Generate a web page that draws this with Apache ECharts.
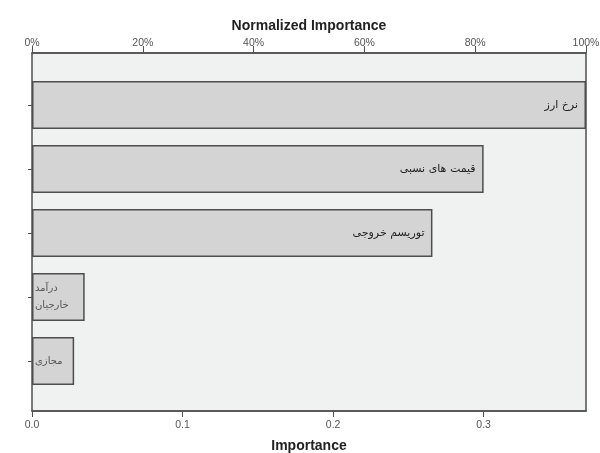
<!DOCTYPE html>
<html>
<head>
<meta charset="utf-8">
<script src="https://cdn.jsdelivr.net/npm/echarts@6/dist/echarts.min.js"></script>
<style>html,body{margin:0;padding:0;background:#fff}#c{width:600px;height:453px}</style>
</head>
<body>
<div id="c"></div>
<script>
var categories = ['نرخ ارز', 'قیمت های نسبی', 'توریسم خروجی', 'درآمد خارجیان', 'مجازی'];
var importance = [0.368, 0.300, 0.266, 0.035, 0.028];
var normalizedImportance = [100, 81.7, 72.3, 9.5, 7.5];
var percentTicks = [0, 20, 40, 60, 80, 100];
var importanceTicks = [0.0, 0.1, 0.2, 0.3];

var maxImp = importance[0];
var chart = echarts.init(document.getElementById('c'), null, {renderer: 'canvas'});
var axisFont = {fontFamily: 'Liberation Sans', fontSize: 10.5, color: '#555'};
var lineCol = '#505050';
var option = {
  backgroundColor: '#ffffff',
  animation: false,
  grid: [
    {left: 32, right: 14, top: 53, bottom: 42, show: true, backgroundColor: '#f0f2f2', borderColor: lineCol, borderWidth: 1.5, containLabel: false, outerBoundsMode: 'none'},
    {left: 32, right: 14, top: 73, bottom: 60, containLabel: false, outerBoundsMode: 'none'}
  ],
  xAxis: [
    {gridIndex: 0, type: 'value', position: 'top', min: percentTicks[0], max: percentTicks[percentTicks.length - 1], interval: 20,
      name: 'Normalized Importance', nameLocation: 'middle', nameGap: 19,
      nameTextStyle: {fontFamily: 'Liberation Sans', fontWeight: 'bold', fontSize: 14, color: '#222'},
      axisLine: {show: true, onZero: false, lineStyle: {color: lineCol, width: 1.5}},
      axisTick: {show: true, length: 7, lineStyle: {color: lineCol}},
      axisLabel: Object.assign({formatter: '{value}%', margin: 4}, axisFont), splitLine: {show: false}},
    {gridIndex: 0, type: 'value', position: 'bottom', min: importanceTicks[0], max: maxImp, interval: 0.1,
      name: 'Importance', nameLocation: 'middle', nameGap: 28,
      nameTextStyle: {fontFamily: 'Liberation Sans', fontWeight: 'bold', fontSize: 14, color: '#222'},
      axisLine: {show: true, onZero: false, lineStyle: {color: lineCol, width: 1.5}},
      axisTick: {show: true, length: 6, lineStyle: {color: lineCol}},
      axisLabel: Object.assign({formatter: function (v) { return v.toFixed(1); }, margin: 9, showMaxLabel: false}, axisFont),
      splitLine: {show: false}},
    {gridIndex: 1, type: 'value', min: 0, max: maxImp, show: false}
  ],
  yAxis: [
    {gridIndex: 0, type: 'value', show: false},
    {gridIndex: 1, type: 'category', inverse: true, data: categories,
      axisLine: {show: false}, axisLabel: {show: false},
      axisTick: {show: true, alignWithLabel: true, length: 4, lineStyle: {color: lineCol}}}
  ],
  series: [{
    type: 'bar', xAxisIndex: 2, yAxisIndex: 1, barWidth: 48,
    data: importance.map(function (v, i) {
      var d = {value: v};
      if (i >= 3) d.label = {position: 'insideLeft', distance: 3, color: '#555', fontSize: 10, lineHeight: 17,
        formatter: function (p) { return p.name.split(' ').join('\n'); }};
      return d;
    }),
    itemStyle: {color: '#d4d4d4', borderColor: '#4d4d4d', borderWidth: 1.5},
    label: {show: true, position: 'insideRight', distance: 8, formatter: function (p) { return p.name; },
      fontFamily: 'DejaVu Sans', fontSize: 11, color: '#222'}
  }]
};
chart.setOption(option);
</script>
</body>
</html>
